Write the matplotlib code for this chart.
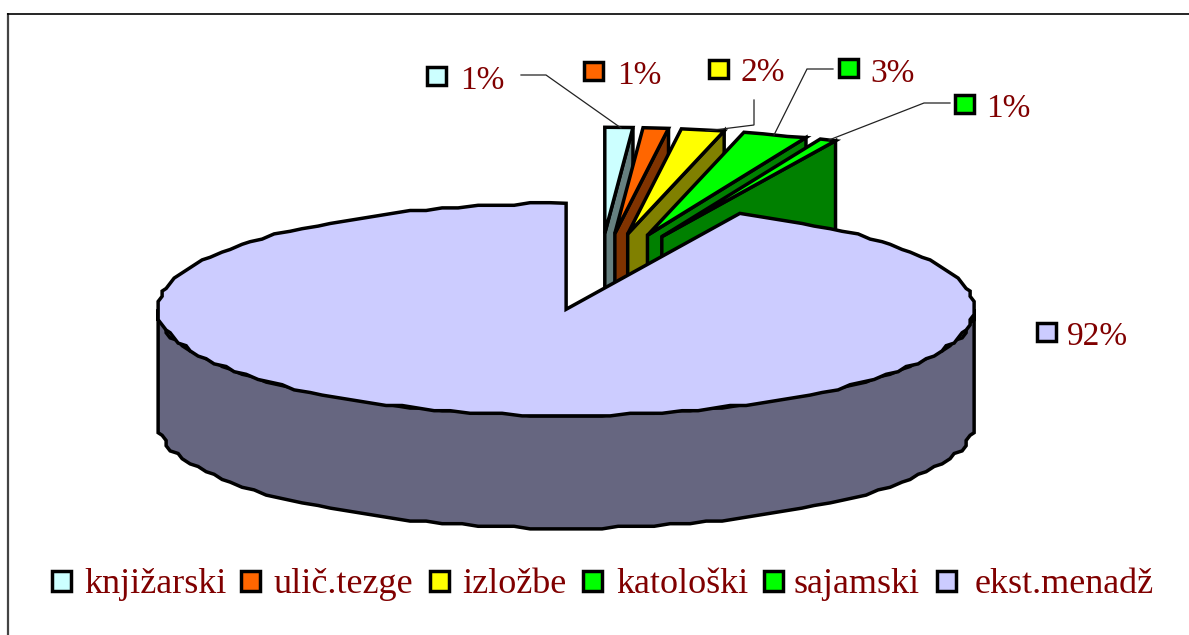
import numpy as np
import matplotlib
matplotlib.use("Agg")
import matplotlib.pyplot as plt
from matplotlib.patches import Polygon, Rectangle

categories = ["knjižarski", "ulič.tezge", "izložbe", "katološki", "sajamski", "ekst.menadž"]
label_values = [1, 1, 2, 3, 1, 92]
shares = [1.1, 1.0, 1.7, 2.55, 0.65, 93.0]
top_colors = ["#CCFFFF", "#FF6600", "#FFFF00", "#00FF00", "#00FF00", "#CCCCFF"]
side_colors = ["#668080", "#803300", "#808000", "#008000", "#008000", "#666680"]
TEXT = "#800000"

W, H = 1189, 635
CX, CY, RX, RY, DEPTH, EXPL = 599.5, 273, 408, 106, 113, 0.375
BIG_DX, BIG_DY = 0, -2.5
GRID_X, GRID_Y = 4, 2.6
LW = 2.5

fig = plt.figure(figsize=(W / 100, H / 100), dpi=100)
ax = fig.add_axes([0, 0, 1, 1])
ax.set_xlim(0, W)
ax.set_ylim(H, 0)
ax.axis("off")
plt.rcParams["font.family"] = ["Liberation Serif", "DejaVu Serif"]


def rim(ox, oy, t0, t1, depth=0):
    n = max(2, int(abs(t1 - t0) / 2.5) + 1)
    t = np.radians(np.linspace(t0, t1, n))
    x = RX * np.cos(t)
    y = -RY * np.sin(t)
    xq = np.round(x / GRID_X) * GRID_X
    yq = np.round(y / GRID_Y) * GRID_Y
    xq[0], yq[0], xq[-1], yq[-1] = x[0], y[0], x[-1], y[-1]
    return np.column_stack([ox + xq, oy + yq + depth])


def poly(pts, fc, z):
    ax.add_patch(Polygon(pts, closed=True, facecolor=fc, edgecolor="black", lw=LW,
                         joinstyle="miter", zorder=z))


ang = 90.0
for i, s in enumerate(shares):
    sweep = s * 3.6
    t0, t1 = ang, ang - sweep
    mid = np.radians((t0 + t1) / 2)
    ox = CX + EXPL * RX * np.cos(mid)
    oy = CY - EXPL * RY * np.sin(mid)
    if i < 5:
        end = np.array([ox + RX * np.cos(np.radians(t1)), oy - RY * np.sin(np.radians(t1))])
        poly([(ox, oy), end, end + (0, DEPTH), (ox, oy + DEPTH)], side_colors[i], 2 + i)
        poly(np.vstack([[(ox, oy)], rim(ox, oy, t0, t1)]), top_colors[i], 2 + i)
    else:
        ox += BIG_DX
        oy += BIG_DY
        top = rim(ox, oy, t0, t1)
        front = rim(ox, oy, -180, 0)
        wall = np.vstack([front, rim(ox, oy, 0, -180, DEPTH)])
        poly(wall, side_colors[i], 10)
        poly(np.vstack([[(ox, oy)], top]), top_colors[i], 11)
    ang = t1

leaders = [
    [(521, 75), (546, 75), (621, 128)],
    [(754, 100), (754, 125), (706, 131)],
    [(833, 69), (807, 69), (774, 135)],
    [(950, 103), (924, 103), (829, 140)],
]
for pts in leaders:
    xs, ys = zip(*pts)
    ax.plot(xs, ys, color="#222222", lw=0.9, zorder=12, solid_joinstyle="miter")

lab_box = [(427, 67), (584, 62), (709, 60), (839, 59), (955, 95), (1037, 323)]
lab_txt = [(460, 89), (617, 84), (741, 81), (870, 82), (986, 117), (1067, 345)]
for i in range(6):
    ax.add_patch(Rectangle(lab_box[i], 19, 18, facecolor=top_colors[i], edgecolor="black",
                           lw=LW, zorder=13))
    ax.text(*lab_txt[i], f"{label_values[i]}%", color=TEXT, fontsize=24, ha="left",
            va="baseline", zorder=13)

leg_box = [52, 241, 430, 583, 764, 937]
leg_mid = [156, 343, 514, 682, 857, 1064]
for i, c in enumerate(categories):
    ax.add_patch(Rectangle((leg_box[i], 571), 19, 20, facecolor=top_colors[i], edgecolor="black",
                           lw=LW, zorder=13))
    ax.text(leg_mid[i], 593, c, color=TEXT, fontsize=26, ha="center", va="baseline", zorder=13)

ax.plot([7.5, 7.5], [H, 13], color="#444444", lw=1.6, zorder=1, solid_capstyle="butt")
ax.plot([6.5, W], [13.5, 13.5], color="black", lw=1.2, zorder=1, solid_capstyle="butt")

fig.savefig("out.png", dpi=100)
